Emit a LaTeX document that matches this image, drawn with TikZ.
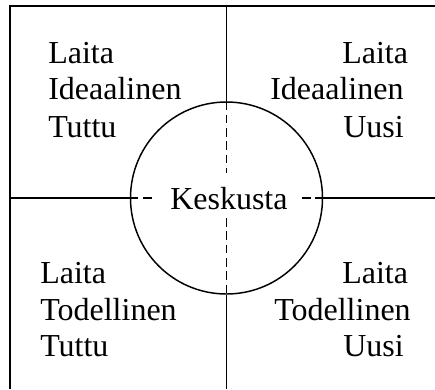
\documentclass[tikz,border=0pt]{standalone}
\usepackage{fontspec}
\setmainfont{Liberation Serif}
\usetikzlibrary{positioning,calc}

\tikzset{
  rivi/.style={anchor=base west, inner sep=0pt,
               font=\fontsize{24}{24}\selectfont},
  viiva/.style={line width=1.1pt},
  katko/.style={viiva, dash pattern=on 6.5pt off 3.5pt},
}

\begin{document}
\begin{tikzpicture}[x=0.75pt, y=-0.75pt]
  \useasboundingbox (0,0) rectangle (435,389);
  %% frame and cross end points
  \coordinate (oy) at (435,6);
  \coordinate (vy) at (10,6);
  \coordinate (va) at (10,389);
  \coordinate (ylos) at (226.5,6);
  \coordinate (alas) at (226.5,389);
  \coordinate (vasen) at (10,198);
  \coordinate (oikea) at (435,198);
  %% centre circle and its label
  \node[circle, draw, viiva, minimum size=144pt, inner sep=0pt]
    (ympyra) at (226.5,198) {};
  \node[rivi] (keskusta) at (170,209) {Keskusta};
  %% quadrant texts, one line each
  \foreach \x/\y/\t [count=\i] in {
      48/63/Laita, 48/99/Ideaalinen, 48/137/Tuttu,
      342/63/Laita, 270/99/Ideaalinen, 343/137/Uusi,
      40/283/Laita, 40/320/Todellinen, 40/356/Tuttu,
      342/283/Laita, 274/320/Todellinen, 343/356/Uusi}{
    \node[rivi] (r\i) at (\x,\y) {\t};
  }
  %% solid lines
  \draw[viiva] (oy) -- (vy) -- (va);
  \draw[viiva] (ylos) -- (ympyra.north);
  \draw[viiva] (ympyra.south) -- (alas);
  \draw[viiva] (vasen) -- (ympyra.west);
  \draw[viiva] (ympyra.east) -- (oikea);
  %% dashed parts inside the circle
  \coordinate (kp) at (226.5,173);
  \coordinate (ke) at (226.5,218);
  \coordinate (kl) at (153,198);
  \coordinate (ki) at (302,198);
  \draw[katko] (ympyra.north) -- (kp);
  \draw[katko] (ke) -- (ympyra.south);
  \draw[katko] (ympyra.west) -- (kl);
  \draw[katko] (ki) -- (ympyra.east);
\end{tikzpicture}
\end{document}
